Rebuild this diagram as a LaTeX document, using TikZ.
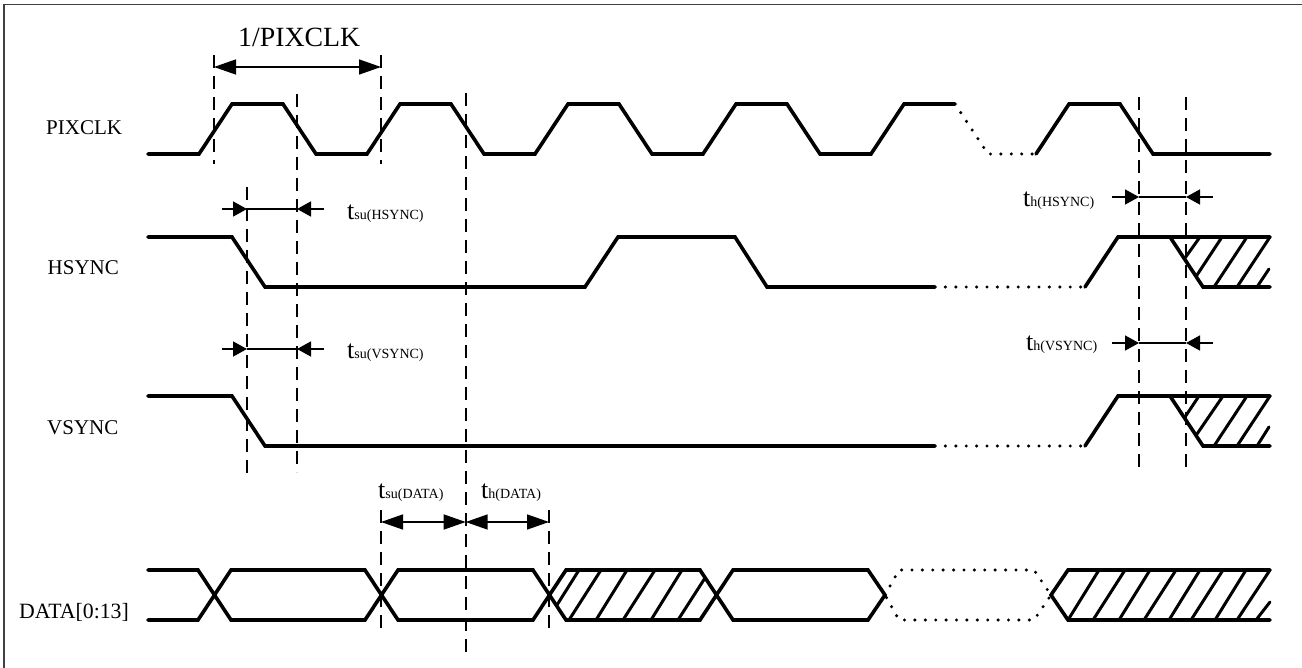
\documentclass[tikz,border=0pt]{standalone}
\usepackage{fontspec}
\setmainfont{Liberation Serif}
\usetikzlibrary{arrows.meta}
\tikzset{
  x=1pt,y=-1pt,
  sig/.style={line width=3.6pt,line join=miter,line cap=round,black},
  dots/.style={line width=3.4pt,line cap=round,dash pattern=on 0pt off 10.4pt,black},
  hatch/.style={line width=3pt,line cap=round,black},
  guide/.style={line width=1.9pt,dash pattern=on 13pt off 8pt,black},
  dimbig/.style={line width=1.5pt,{Triangle[length=22pt,width=15pt]}-{Triangle[length=22pt,width=15pt]}},
  dimin/.style={line width=1.5pt,-{Triangle[length=14pt,width=15pt]}},
  dimbar/.style={line width=1.5pt},
  lab/.style={anchor=base west,inner sep=0pt,font=\fontsize{21}{21}\selectfont},
  tlab/.style={anchor=base west,inner sep=0pt,font=\fontsize{26}{26}\selectfont},
}
\newcommand{\subf}{\fontsize{14}{14}\selectfont}
\begin{document}
\begin{tikzpicture}
\useasboundingbox (0,0) rectangle (1302,668);
\fill[white] (0,0) rectangle (1302,668);
\draw[line width=1.6pt,black!75] (4,668) -- (4,4.5) -- (1302,4.5);
% guides
\coordinate (a1) at (214,55);  \coordinate (a2) at (214,164);
\coordinate (b1) at (381,55);  \coordinate (b2) at (381,164);
\coordinate (c1) at (297,94);  \coordinate (c2) at (297,472);
\coordinate (d1) at (247,187); \coordinate (d2) at (247,476);
\coordinate (e1) at (465.7,93); \coordinate (e2) at (465.7,654);
\coordinate (f1) at (381,510); \coordinate (f2) at (381,629);
\coordinate (g1) at (549,510); \coordinate (g2) at (549,629);
\coordinate (h1) at (1139,97); \coordinate (h2) at (1139,470);
\coordinate (i1) at (1186,97); \coordinate (i2) at (1186,470);
\foreach \p/\q in {a1/a2,b1/b2,c1/c2,d1/d2,e1/e2,f1/f2,g1/g2,h1/h2,i1/i2}
  \draw[guide] (\p) -- (\q);
% PIXCLK
\draw[sig] (148,154) -- (199,154) -- (232,104) -- (283,104) -- (316,154) -- (367,154) -- (400,104) -- (451,104) -- (484,154) -- (535,154) -- (568,104) -- (619,104) -- (652,154) -- (703,154) -- (736,104) -- (787,104) -- (820,154) -- (871,154) -- (904,104) -- (955,104);
\draw[dots] (955,104) -- (988,154) -- (1035,154);
\draw[sig] (1036,154) -- (1069,104) -- (1120,104) -- (1153,154) -- (1270,154);
% HSYNC
\draw[sig] (148,237) -- (232,237) -- (265,287) -- (585,287) -- (618,237) -- (735,237) -- (767,287) -- (935,287);
\draw[dots] (935,287) -- (1085,287);
\draw[sig] (1085,287) -- (1118,237) -- (1270,237);
\draw[sig] (1170,237) -- (1203,287) -- (1270,287);
\foreach \xa/\ya/\xb in {1185/258/1200,1197/275/1222,1214/287/1247,1237/287/1270}
  \draw[hatch] (\xa,\ya) -- (\xb,237);
\draw[hatch] (1257,287) -- (1269,269);
% VSYNC
\draw[sig] (148,396) -- (232,396) -- (265,446) -- (935,446);
\draw[dots] (935,446) -- (1085,446);
\draw[sig] (1085,446) -- (1118,396) -- (1270,396);
\draw[sig] (1170,396) -- (1203,446) -- (1270,446);
\foreach \xa/\ya/\xb in {1185/417/1199,1197/434/1223,1214/446/1247,1237/446/1270}
  \draw[hatch] (\xa,\ya) -- (\xb,396);
\draw[hatch] (1257,446) -- (1269,427);
% DATA
\draw[sig] (148,570) -- (198,570) -- (231,620) -- (365,620) -- (398,570) -- (533,570) -- (566,620) -- (700,620) -- (733,570) -- (868,570) -- (885,595) -- (868,620) -- (733,620) -- (700,570) -- (566,570) -- (533,620) -- (398,620) -- (365,570) -- (231,570) -- (198,620) -- (148,620);
\draw[dots] (885,595) -- (899,570) -- (1034,570) -- (1051,595) -- (1034,620) -- (899,620) -- cycle;
\draw[sig] (1270,570) -- (1068,570) -- (1051,595) -- (1068,620) -- (1270,620);
\foreach \xa/\ya/\xb/\yb in {557/605/579/570,569/620/601/570,596/620/627/570,623/620/655/570,651/620/682/570,678/620/705/578,
 1068/620/1099/570,1093/620/1125/570,1119/620/1150/570,1144/620/1176/570,1169/620/1200/570,1191/620/1223/570,1215/620/1246/570,1237/620/1270/570,1256/620/1270/602}
  \draw[hatch] (\xa,\ya) -- (\xb,\yb);
% dimension arrows
\coordinate (m1) at (214,67); \coordinate (m2) at (381,67);
\draw[dimbig] (m1) -- (m2);
\coordinate (n1) at (381,522); \coordinate (n2) at (465.7,522); \coordinate (n3) at (549,522);
\draw[dimbig] (n1) -- (n2);
\draw[dimbig] (n2) -- (n3);
\foreach \xl/\xa/\xb/\xr/\yy in {222/247/297/324/209,222/247/297/324/349,1112/1139/1186/1213/197,1112/1139/1186/1213/343}{
  \coordinate (ol) at (\xl,\yy); \coordinate (oa) at (\xa,\yy); \coordinate (ob) at (\xb,\yy); \coordinate (or) at (\xr,\yy);
  \draw[dimin] (ol) -- (oa);
  \draw[dimin] (or) -- (ob);
  \draw[dimbar] (oa) -- (ob);
}
% labels
\node[lab] (lpix) at (46,135) {PIXCLK};
\node[lab] (lhs) at (47.5,274.5) {HSYNC};
\node[lab] (lvs) at (47,434) {VSYNC};
\node[anchor=base west,inner sep=0pt,font=\fontsize{21.8}{22}\selectfont] (ldata) at (19,618) {DATA[0:13]};
\node[anchor=base west,inner sep=0pt,font=\fontsize{27.8}{28}\selectfont] (lper) at (238,47) {1/PIXCLK};
\node[tlab] (t1) at (347,219.5) {t\subf su(HSYNC)};
\node[tlab] (t2) at (347,359) {t\subf su(VSYNC)};
\node[tlab] (t3) at (1023,206.5) {t\subf h(HSYNC)};
\node[tlab] (t4) at (1026,351) {t\subf h(VSYNC)};
\node[tlab] (t5) at (378,498.5) {t\subf su(DATA)};
\node[tlab] (t6) at (481,498.5) {t\subf h(DATA)};
\end{tikzpicture}
\end{document}
